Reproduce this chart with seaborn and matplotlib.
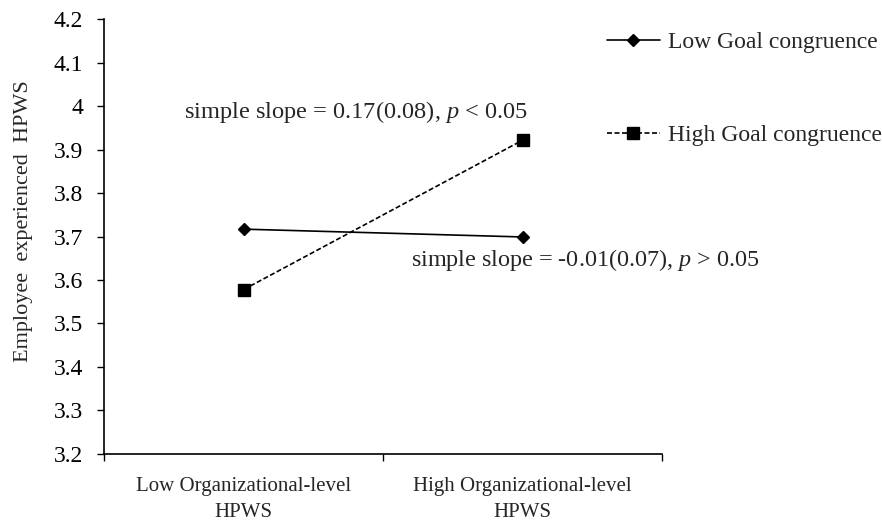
import pandas as pd
import matplotlib.pyplot as plt
import seaborn as sns
from matplotlib.ticker import FixedLocator, NullFormatter

# ---------- Data ----------
levels = ["Low Organizational-level\nHPWS", "High Organizational-level\nHPWS"]
low_gc = [3.717, 3.699]
high_gc = [3.578, 3.922]
y_ticks = [3.2, 3.3, 3.4, 3.5, 3.6, 3.7, 3.8, 3.9, 4.0, 4.1, 4.2]
y_tick_labels = ["3.2", "3.3", "3.4", "3.5", "3.6", "3.7", "3.8", "3.9", "4", "4.1", "4.2"]

df = pd.DataFrame({
    "x": [0, 1, 0, 1],
    "value": low_gc + high_gc,
    "group": ["Low Goal congruence"] * 2 + ["High Goal congruence"] * 2,
})

sns.set_style("ticks")
plt.rcParams["font.family"] = ["Liberation Serif", "DejaVu Serif"]
plt.rcParams["mathtext.fontset"] = "custom"
plt.rcParams["mathtext.rm"] = "Liberation Serif"
plt.rcParams["mathtext.it"] = "Liberation Serif:italic"

fig, ax = plt.subplots(figsize=(8.82, 5.21), dpi=100)
fig.subplots_adjust(left=0.118, right=0.751, top=0.963, bottom=0.129)

sns.lineplot(data=df, x="x", y="value", hue="group", style="group",
             markers={"Low Goal congruence": "D", "High Goal congruence": "s"},
             dashes={"Low Goal congruence": "", "High Goal congruence": (3, 1.5)},
             palette={"Low Goal congruence": "black", "High Goal congruence": "black"},
             markersize=0, linewidth=1.2, ax=ax, legend=False)

# markers drawn separately to get sizes like the original
lo = df[df["group"] == "Low Goal congruence"]
hi = df[df["group"] == "High Goal congruence"]
ax.plot(lo["x"], lo["value"], linestyle="none", marker="D", markersize=6, color="black")
ax.plot(hi["x"], hi["value"], linestyle="none", marker="s", markersize=9, color="black")

ax.set_xlim(-0.5, 1.5)
ax.set_ylim(3.2, 4.2)
ax.set_yticks(y_ticks)
ax.set_yticklabels(y_tick_labels, fontsize=17)
ax.xaxis.set_major_locator(FixedLocator([-0.5, 0.5, 1.5]))
ax.xaxis.set_major_formatter(NullFormatter())
ax.xaxis.set_minor_locator(FixedLocator([0, 1]))
ax.set_xticklabels(levels, minor=True, fontsize=15, linespacing=1.45)
ax.tick_params(axis="x", which="minor", length=0, pad=17)
ax.tick_params(axis="x", which="major", length=5, width=1, direction="out", color="black")
ax.tick_params(axis="y", length=5, width=1, pad=10, color="black", labelcolor="black")
for s in ["left", "bottom"]:
    ax.spines[s].set_color("black")
    ax.spines[s].set_linewidth(1.2)
sns.despine(ax=ax)

ax.set_xlabel("")
ax.set_ylabel("Employee  experienced  HPWS", fontsize=16)
ax.yaxis.set_label_coords(-0.128, 0.535)

ax.text(0.403, 3.986, "simple slope = 0.17(0.08), $\\it{p}$ < 0.05", fontsize=17.6, ha="center", va="center")
ax.text(1.224, 3.646, "simple slope = -0.01(0.07), $\\it{p}$ > 0.05", fontsize=17.4, ha="center", va="center")

# legend
h1, = ax.plot([], [], color="black", linewidth=1.2, marker="D", markersize=6)
h2, = ax.plot([], [], color="black", linewidth=1.2, linestyle=(0, (3, 1.5)), marker="s", markersize=8)
fig.legend([h1, h2], ["Low Goal congruence", "High Goal congruence"],
           loc="upper left", bbox_to_anchor=(0.688, 0.94), frameon=False, borderpad=0,
           borderaxespad=0, fontsize=17, handlelength=2.25, handletextpad=0.35, labelspacing=3.05)

plt.savefig("out.png", dpi=100)
